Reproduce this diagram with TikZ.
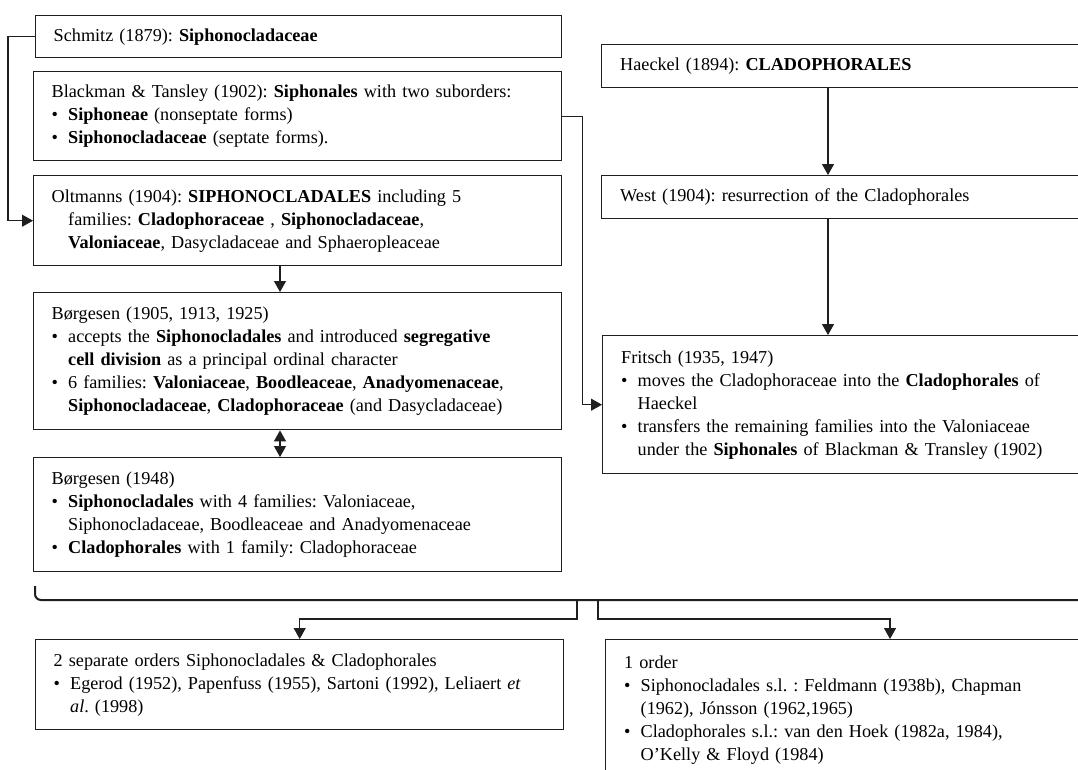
\documentclass[tikz,border=0pt]{standalone}
\usepackage{fontspec}
\setmainfont{Liberation Serif}
\usetikzlibrary{arrows.meta}
\newcommand\bul{\makebox[16.5pt][l]{•}}
\newcommand\ind{\hspace*{16.5pt}}
\begin{document}
\frenchspacing
\begin{tikzpicture}[x=1pt,y=-1pt,
  box/.style={draw=black!88, line width=1.4pt, rectangle, anchor=north west, align=left,
    inner xsep=18pt, inner ysep=2pt, font=\fontsize{18.2}{23}\selectfont\frenchspacing},
  lbox/.style={box, minimum width=528pt, text width=492pt},
  rbox/.style={box, minimum width=500pt, text width=463pt, inner xsep=18.5pt},
  conn/.style={line width=1.2pt, draw=black!88},
  arr/.style={conn, -{Triangle[length=11pt,width=12pt]}},
  darr/.style={conn, {Triangle[length=11pt,width=12pt]}-{Triangle[length=11pt,width=12pt]}},
  bracket/.style={line width=2pt, draw=black!88, rounded corners=6pt},
  ]
\useasboundingbox (0,0) rectangle (1078,769);
\fill[white] (0,0) rectangle (1078,769);
\clip (0,0) rectangle (1078,769);

% left column
\node[lbox, minimum width=526pt, text width=490pt, minimum height=42pt] (schmitz) at (35,15)
  {Schmitz (1879): \textbf{Siphonocladaceae}};
\node[lbox, minimum height=89pt] (blackman) at (33,71)
  {Blackman \& Tansley (1902): \textbf{Siphonales} with two suborders:\\
   \bul\textbf{Siphoneae} (nonseptate forms)\\
   \bul\textbf{Siphonocladaceae} (septate forms).};
\node[lbox, minimum height=90pt] (oltmanns) at (33,175)
  {Oltmanns (1904): \textbf{SIPHONOCLADALES} including 5\\
   \ind families: \textbf{Cladophoraceae} , \textbf{Siphonocladaceae},\\
   \ind\textbf{Valoniaceae}, Dasycladaceae and Sphaeropleaceae};
\node[lbox, minimum height=137pt] (borg1) at (33,292)
  {Børgesen (1905, 1913, 1925)\\
   \bul accepts the \textbf{Siphonocladales} and introduced \textbf{segregative}\\
   \ind\textbf{cell division} as a principal ordinal character\\
   \bul 6 families: \textbf{Valoniaceae}, \textbf{Boodleaceae}, \textbf{Anadyomenaceae},\\
   \ind\textbf{Siphonocladaceae}, \textbf{Cladophoraceae} (and Dasycladaceae)};
\node[lbox, minimum height=114pt] (borg2) at (33,457)
  {Børgesen (1948)\\
   \bul\textbf{Siphonocladales} with 4 families: Valoniaceae,\\
   \ind Siphonocladaceae, Boodleaceae and Anadyomenaceae\\
   \bul\textbf{Cladophorales} with 1 family: Cladophoraceae};

% right column
\node[rbox, minimum height=43pt] (haeckel) at (601,44)
  {Haeckel (1894): \textbf{CLADOPHORALES}};
\node[rbox, minimum height=43pt] (west) at (601,175)
  {West (1904): resurrection of the Cladophorales};
\node[rbox, minimum height=138pt] (fritsch) at (602,335)
  {Fritsch (1935, 1947)\\
   \bul moves the Cladophoraceae into the \textbf{Cladophorales} of\\
   \ind Haeckel\\
   \bul transfers the remaining families into the Valoniaceae\\
   \ind under the \textbf{Siphonales} of Blackman \& Transley (1902)};

% bottom
\node[lbox, minimum height=90pt] (sep) at (35,639)
  {2 separate orders Siphonocladales \& Cladophorales\\
   \bul Egerod (1952), Papenfuss (1955), Sartoni (1992), Leliaert \textit{et}\\
   \ind\textit{al}. (1998)};
\node[rbox, minimum height=140pt] (one) at (605,639)
  {1 order\\
   \bul Siphonocladales s.l. : Feldmann (1938b), Chapman\\
   \ind (1962), Jónsson (1962,1965)\\
   \bul Cladophorales s.l.: van den Hoek (1982a, 1984),\\
   \ind O’Kelly \& Floyd (1984)};

% connectors
\coordinate (lx) at (280,0);
\coordinate (rx) at (828,0);
\coordinate (ax) at (890,0);
\draw[arr] (schmitz.west) -- ++(-27,0) |- (oltmanns.west);
\draw[arr] (blackman.east) -- ++(20,0) |- (fritsch.west);
\draw[arr] (lx |- oltmanns.south) -- (lx |- borg1.north);
\draw[darr] (lx |- borg1.south) -- (lx |- borg2.north);
\draw[arr] (rx |- haeckel.south) -- (rx |- west.north);
\draw[arr] (rx |- west.south) -- (rx |- fritsch.north);

\coordinate (bl) at (35,586);
\coordinate (bc) at (35,600);
\coordinate (br) at (1095,600);
\coordinate (d1) at (577,600);
\coordinate (d2) at (598,600);
\draw[bracket] (bl) -- (bc) -- (br);
\draw[arr] (d1) -- ++(0,19) -| (sep.north);
\draw[arr] (d2) -- ++(0,19) -| (ax |- one.north);
\end{tikzpicture}
\end{document}
